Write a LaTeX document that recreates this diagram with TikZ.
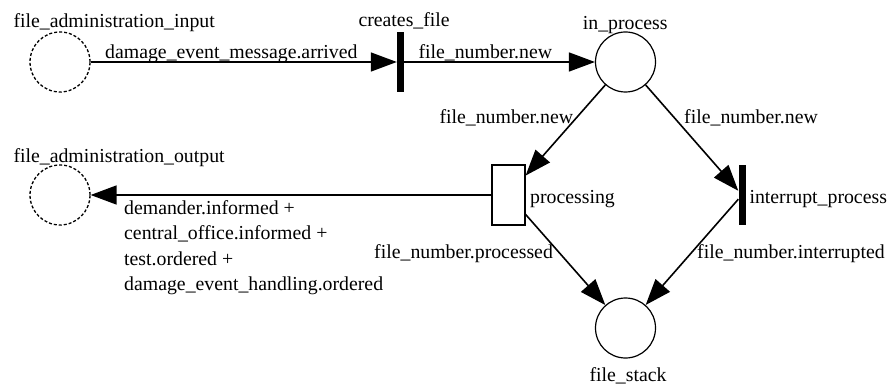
\documentclass[tikz,border=0pt]{standalone}
\usepackage{fontspec}
\setmainfont{Liberation Serif}
\newfontfamily\netfont{Liberation Serif}
\usetikzlibrary{arrows.meta}
\begin{document}
\begin{tikzpicture}[x=1pt,y=-1pt,
  lbl/.style={font=\netfont\fontsize{19.8}{25.5}\selectfont, inner sep=0pt, anchor=base west},
  place/.style={circle, draw, line width=1.2pt, minimum size=60pt, inner sep=0pt},
  iface/.style={place, dash pattern=on 3pt off 2pt, line width=1.3pt},
  tbar/.style={rectangle, fill=black, draw=none, minimum width=7pt, minimum height=60pt, inner sep=0pt},
  tbox/.style={rectangle, draw, line width=1.2pt, minimum width=33pt, minimum height=60pt, inner sep=0pt},
  arc/.style={line width=1.6pt, -{Triangle[length=26pt,width=19pt]}}
]
% canvas
\fill[white] (0,0) rectangle (890,387);

% places and transitions
\node[iface] (fin)  at (60,62) {};
\node[tbar]  (cf)   at (400.5,62) {};
\node[place] (inp)  at (625.5,62) {};
\node[tbox]  (proc) at (508.5,195) {};
\node[tbar]  (intr) at (742,195) {};
\node[place] (fst)  at (625.5,328) {};
\node[iface] (fout) at (60,195) {};

% node labels
\node[lbl] (lfin)  at (13.3,27.5)  {file\_administration\_input};
\node[lbl] (lcf)   at (358.3,26.5) {creates\_file};
\node[lbl] (linp)  at (582.7,29.5) {in\_process};
\node[lbl] (lproc) at (530,204) {processing};
\node[lbl] (lintr) at (749.3,204) {interrupt\_process};
\node[lbl] (lfst)  at (589.3,381.5) {file\_stack};
\node[lbl] (lfout) at (13.3,162.5) {file\_administration\_output};

% arcs
\draw[arc] (fin) -- (cf);
\draw[arc] (cf) -- (inp);
\draw[arc] (inp) -- (proc);
\draw[arc] (inp) -- (intr);
\draw[arc] (proc) -- (fst);
\draw[arc] (intr) -- (fst);
\draw[arc] (proc) -- (fout);

% arc inscriptions
\node[lbl] (a1) at (105,58.5)   {damage\_event\_message.arrived};
\node[lbl] (a2) at (418.3,58.5) {file\_number.new};
\node[lbl] (a3) at (439.3,123.5) {file\_number.new};
\node[lbl] (a4) at (684,123.5)  {file\_number.new};
\node[lbl] (a5) at (374,258.5)  {file\_number.processed};
\node[lbl] (a6) at (697,258.5) {file\_number.interrupted};
\node[lbl, anchor=north west, align=left] (a7) at (124,200)
  {demander.informed +\\central\_office.informed +\\test.ordered +\\damage\_event\_handling.ordered};
\end{tikzpicture}
\end{document}
